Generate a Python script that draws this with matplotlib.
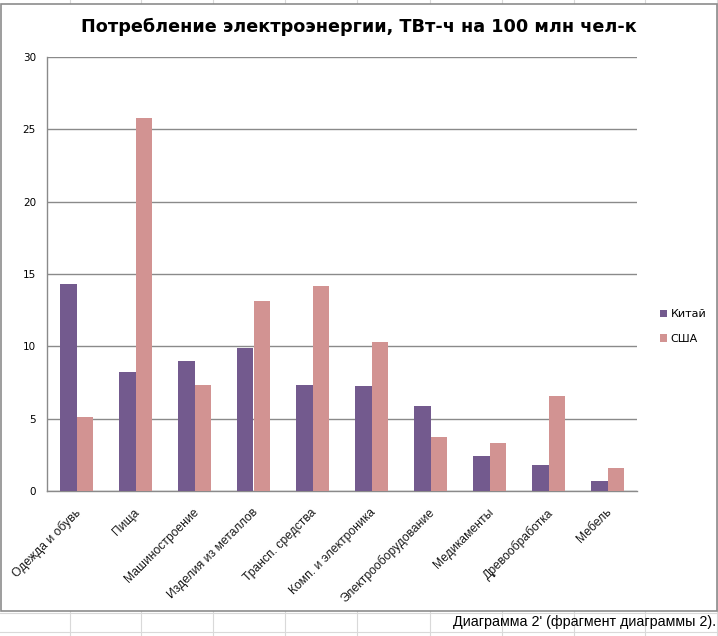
import matplotlib
matplotlib.use("Agg")
import matplotlib.pyplot as plt
from matplotlib.patches import Rectangle
from matplotlib.lines import Line2D
import matplotlib.transforms as mtransforms
import numpy as np

categories = ["Одежда и обувь", "Пища", "Машиностроение", "Изделия из металлов",
              "Трансп. средства", "Комп. и электроника", "Электрооборудование",
              "Медикаменты", "Древообработка", "Мебель"]
china = [14.3, 8.2, 9.0, 9.9, 7.3, 7.25, 5.9, 2.4, 1.8, 0.7]
usa = [5.1, 25.8, 7.3, 13.1, 14.2, 10.3, 3.7, 3.3, 6.6, 1.6]
series_names = ["Китай", "США"]
yticks = [0, 5, 10, 15, 20, 25, 30]
title = "Потребление электроэнергии, ТВт-ч на 100 млн чел-к"
caption = "Диаграмма 2' (фрагмент диаграммы 2)."

W, H = 718, 636
fig = plt.figure(figsize=(W / 100, H / 100), dpi=100)
fig.patch.set_facecolor("white")

def fx(px):
    return px / W

def fy(py):
    return 1 - py / H

# spreadsheet cell lines
cell_col = "#d9d9d9"
for x in [70, 141, 213, 285, 357, 430, 502, 574, 645, 717]:
    fig.add_artist(Line2D([fx(x), fx(x)], [0, 1], color=cell_col, lw=0.8, zorder=-5))
for y in [613, 632]:
    fig.add_artist(Line2D([0, 1], [fy(y), fy(y)], color=cell_col, lw=0.8, zorder=-5))

# chart frame
fig.add_artist(Rectangle((fx(1), fy(611)), fx(716), (611 - 4) / H, facecolor="white",
                         edgecolor="#8c8c8c", lw=1.2, zorder=-4))

ax = fig.add_axes([fx(47), fy(491), fx(637 - 47), (491 - 57) / H])
ax.set_zorder(1)
x = np.arange(len(categories))
bw = 0.288
c_china = "#735A8E"
c_usa = "#D29392"
ax.bar(x - bw / 2, china, width=bw, color=c_china, label=series_names[0], zorder=3)
ax.bar(x + bw / 2, usa, width=bw, color=c_usa, label=series_names[1], zorder=3)

ax.set_xlim(-0.5, len(categories) - 0.5)
ax.set_ylim(0, 30)
ax.set_yticks(yticks)
ax.set_yticklabels([str(v) for v in yticks], fontsize=7.5, family="DejaVu Sans")
ax.tick_params(axis="y", length=0, pad=8)
ax.tick_params(axis="x", length=0, pad=11)
ax.set_xticks(x)
ax.set_xticklabels(categories, rotation=45, ha="right", va="top",
                   rotation_mode="anchor", fontsize=8.7, family="Liberation Sans",
                   color="#1a1a1a")
offset = mtransforms.ScaledTranslation(-2 / 100, 0, fig.dpi_scale_trans)
for lab in ax.get_xticklabels():
    lab.set_transform(lab.get_transform() + offset)
ax.grid(axis="y", color="#8a8a8a", lw=1.0, zorder=0)
for s in ["top", "right"]:
    ax.spines[s].set_visible(False)
for s in ["left", "bottom"]:
    ax.spines[s].set_color("#8a8a8a")
    ax.spines[s].set_linewidth(1.0)

leg = ax.legend(loc="center left", bbox_to_anchor=(fx(650), fy(326.5)),
                bbox_transform=fig.transFigure, frameon=False,
                handlelength=0.65, handleheight=0.65, handletextpad=0.3,
                labelspacing=1.3, prop={"family": "DejaVu Sans", "size": 8})

fig.text(fx(359), fy(27), title, ha="center", va="center",
         fontsize=12.7, fontweight="bold", family="DejaVu Sans")
fig.text(fx(716), fy(622), caption, ha="right", va="center",
         fontsize=10.3, family="Liberation Sans")

fig.savefig("out.png", dpi=100, facecolor="white")
